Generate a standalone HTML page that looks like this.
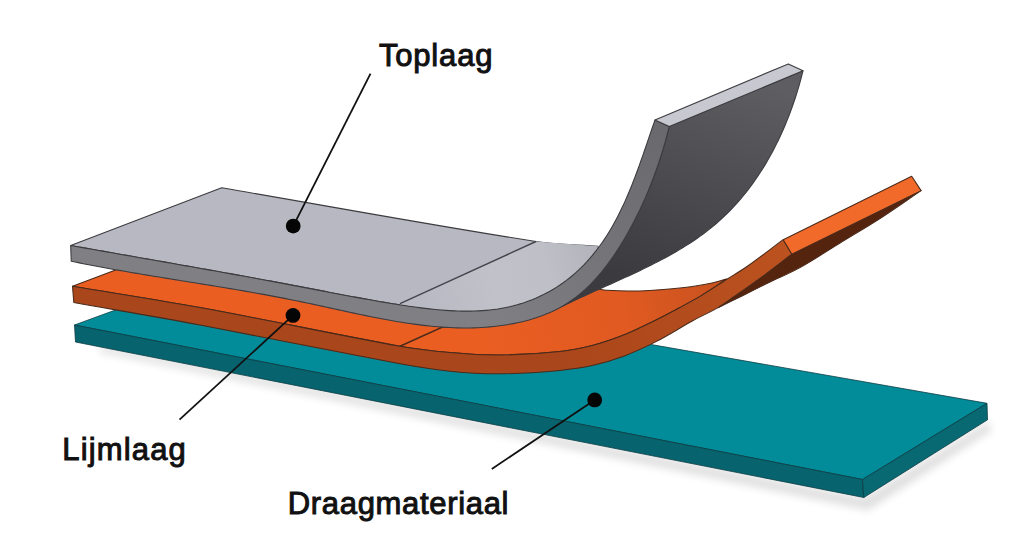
<!DOCTYPE html>
<html><head><meta charset="utf-8"><style>
html,body{margin:0;padding:0;background:#fff;width:1024px;height:560px;overflow:hidden}
svg{display:block}
text{font-family:"Liberation Sans",sans-serif}
</style></head><body>
<svg width="1024" height="560" viewBox="0 0 1024 560">
<defs><filter id="sh" x="-20%" y="-50%" width="140%" height="200%"><feGaussianBlur stdDeviation="4.5"/></filter><linearGradient id="gdark" gradientUnits="userSpaceOnUse" x1="740" y1="75" x2="660" y2="290"><stop offset="0" stop-color="#5e5e62"/><stop offset="1" stop-color="#3b3b3f"/></linearGradient><linearGradient id="gband" gradientUnits="userSpaceOnUse" x1="480" y1="320" x2="660" y2="130"><stop offset="0" stop-color="#7f7f84"/><stop offset="0.5" stop-color="#757579"/><stop offset="1" stop-color="#6a6a6e"/></linearGradient><linearGradient id="gtop" gradientUnits="userSpaceOnUse" x1="420" y1="300" x2="600" y2="250"><stop offset="0" stop-color="#b9b9c3"/><stop offset="0.4" stop-color="#c1c1c9"/><stop offset="0.7" stop-color="#bfbfc7"/><stop offset="1" stop-color="#b2b2ba"/></linearGradient><linearGradient id="otop" gradientUnits="userSpaceOnUse" x1="480" y1="330" x2="720" y2="290"><stop offset="0" stop-color="#ea5e22"/><stop offset="0.6" stop-color="#e05a21"/><stop offset="1" stop-color="#c9521f"/></linearGradient><linearGradient id="oband" gradientUnits="userSpaceOnUse" x1="560" y1="360" x2="790" y2="245"><stop offset="0" stop-color="#aa461b"/><stop offset="1" stop-color="#bc521f"/></linearGradient></defs>
<path d="M100,345 L864,498 L987,422 L992,430 L868,510 L100,352 Z" fill="#000" opacity="0.13" filter="url(#sh)"/>
<path d="M74.5,325.0 L225.0,270.0 L987.0,403.3 L862.5,479.5 Z" fill="#028c99" stroke="#0a3c44" stroke-width="0.8" stroke-linejoin="round"/>
<path d="M74.5,325.0 L862.5,479.5 L863.8,497.5 L75.5,342.0 Z" fill="#07646e" stroke="#0a3c44" stroke-width="0.8" stroke-linejoin="round"/>
<path d="M862.5,479.5 L987.0,403.3 L987.5,419.8 L863.8,497.5 Z" fill="#086972" stroke="#0a3c44" stroke-width="0.8" stroke-linejoin="round"/>
<path d="M791.8,254.1 L921.1,190.6 C907.4,199.9 893.9,209.5 880.0,218.5 C866.9,227.0 853.3,234.8 840.0,243.0 C826.7,251.2 813.7,260.0 800.0,267.6 C789.8,273.3 778.9,277.7 768.4,282.8 C759.9,287.0 751.5,291.3 743.0,295.5 C734.7,299.6 726.3,303.7 718.0,307.8 C723.7,303.9 729.4,300.0 735.0,296.0 C745.0,288.9 755.1,281.9 765.0,274.6 C774.1,267.9 782.9,260.9 791.8,254.1 Z" fill="#55240f" stroke="#4a2a1a" stroke-width="1.05" stroke-linejoin="round"/>
<path d="M72.5,286.2 L224.5,229.0 C349.8,249.2 474.9,270.9 600.4,289.6 C613.5,291.5 626.8,291.2 640.0,290.9 C654.9,290.5 669.8,289.2 684.6,287.6 C693.8,286.6 702.9,284.9 712.0,283.0 C716.9,282.0 721.7,280.3 726.5,279.0 C717.7,285.1 709.0,291.0 700.0,296.4 C693.5,300.3 686.7,303.9 680.0,307.5 C672.2,311.7 664.4,315.9 656.5,319.8 C645.9,325.0 635.3,330.4 624.3,334.8 C613.8,339.0 603.1,342.7 592.2,345.5 C581.6,348.2 570.9,350.4 560.0,351.5 C540.1,353.6 520.0,354.8 500.0,355.0 C483.3,355.2 466.6,354.0 450.0,352.5 C433.3,351.0 416.5,349.2 400.0,346.2 C333.2,334.2 266.8,319.7 200.0,307.5 C157.6,299.7 115.0,293.3 72.5,286.2 Z" fill="url(#otop)" stroke="#4a2a1a" stroke-width="1.05" stroke-linejoin="round"/>
<path d="M72.5,286.2 C115.0,293.3 157.6,299.7 200.0,307.5 C266.8,319.7 333.2,334.2 400.0,346.2 C416.5,349.2 433.3,351.0 450.0,352.5 C466.6,354.0 483.3,355.2 500.0,355.0 C520.0,354.8 540.1,353.6 560.0,351.5 C570.9,350.4 581.6,348.2 592.2,345.5 C603.1,342.7 613.8,339.0 624.3,334.8 C635.3,330.4 645.9,325.0 656.5,319.8 C664.4,315.9 672.2,311.7 680.0,307.5 C686.7,303.9 693.5,300.3 700.0,296.4 C709.0,291.0 717.7,285.1 726.5,279.5 C733.3,275.2 740.4,271.1 747.0,266.5 C759.3,257.9 771.1,248.6 783.2,239.7 L791.8,254.1 C782.9,260.9 774.1,267.9 765.0,274.6 C755.1,281.9 745.1,288.9 735.0,296.0 C729.4,299.9 723.9,304.1 718.0,307.6 C709.7,312.5 700.8,316.3 692.3,321.0 C680.3,327.6 668.7,335.1 656.5,341.4 C646.0,346.8 635.3,351.8 624.3,355.9 C613.8,359.8 603.1,363.1 592.2,365.6 C581.6,368.0 570.8,369.4 560.0,370.4 C540.0,372.2 520.0,373.6 500.0,373.8 C483.3,373.9 466.6,372.9 450.0,371.2 C433.2,369.6 416.6,366.8 400.0,363.8 C333.2,351.4 266.7,337.5 200.0,325.0 C158.0,317.1 115.8,310.0 73.8,302.5 Z" fill="url(#oband)" stroke="#4a2a1a" stroke-width="1.05" stroke-linejoin="round"/>
<path d="M783.2,239.7 L911.7,176.3 L921.1,190.6 L791.8,254.1 Z" fill="#f26a2a" stroke="#4a2a1a" stroke-width="1.05" stroke-linejoin="round"/>
<path d="M400,346.25 L540,283" stroke="#4a2a1a" stroke-width="1.4" fill="none"/>
<path d="M669.3,126.4 L803.0,70.8 L802.01,74.74 L800.98,78.68 L799.91,82.61 L798.79,86.54 L797.62,90.46 L796.41,94.37 L795.16,98.27 L793.86,102.16 L792.51,106.04 L791.12,109.91 L789.68,113.76 L788.20,117.59 L786.67,121.41 L785.10,125.21 L783.48,128.98 L781.81,132.74 L780.10,136.47 L778.33,140.18 L776.53,143.87 L774.67,147.53 L772.77,151.16 L770.82,154.76 L768.83,158.33 L766.78,161.87 L764.69,165.38 L762.55,168.85 L760.37,172.29 L758.13,175.69 L755.85,179.05 L753.52,182.37 L751.14,185.65 L748.71,188.89 L746.23,192.09 L743.70,195.24 L741.12,198.34 L738.50,201.40 L735.82,204.41 L733.10,207.37 L730.32,210.28 L727.50,213.14 L724.63,215.94 L721.70,218.68 L718.73,221.38 L715.70,224.01 L712.63,226.59 L709.50,229.11 L706.33,231.58 L703.12,233.99 L699.87,236.36 L696.57,238.68 L693.24,240.95 L689.87,243.18 L686.46,245.36 L683.02,247.50 L679.54,249.61 L676.04,251.67 L672.51,253.70 L668.95,255.70 L665.37,257.66 L661.76,259.59 L658.14,261.50 L654.49,263.37 L650.82,265.22 L647.14,267.05 L643.44,268.85 L639.74,270.64 L636.02,272.40 L632.29,274.15 L628.55,275.89 L624.81,277.61 L621.06,279.32 L617.31,281.01 L613.56,282.71 L609.82,284.39 L606.07,286.07 L602.33,287.75 L598.60,289.42 L594.87,291.10 L591.16,292.78 L587.45,294.46 L583.76,296.15 L580.09,297.84 L576.43,299.55 L572.79,301.26 L569.17,302.99 L565.57,304.73 L562.00,306.49 L565.8,304.2 L569.13,302.07 L572.42,299.79 L575.64,297.42 L578.78,294.94 L581.86,292.36 L584.88,289.69 L587.82,286.94 L590.70,284.10 L593.51,281.19 L596.25,278.21 L598.93,275.16 L601.54,272.05 L604.09,268.88 L606.58,265.65 L609.01,262.38 L611.39,259.06 L613.72,255.70 L615.99,252.30 L618.21,248.87 L620.39,245.42 L622.52,241.94 L624.60,238.44 L626.65,234.92 L628.65,231.39 L630.60,227.84 L632.52,224.27 L634.40,220.69 L636.23,217.10 L638.03,213.48 L639.79,209.86 L641.51,206.21 L643.18,202.55 L644.82,198.88 L646.43,195.19 L647.99,191.49 L649.52,187.77 L651.01,184.04 L652.47,180.29 L653.89,176.53 L655.27,172.75 L656.62,168.96 L657.94,165.16 L659.22,161.34 L660.47,157.51 L661.68,153.67 L662.87,149.81 L664.02,145.94 L665.14,142.06 L666.22,138.16 L667.28,134.25 L668.30,130.33 L669.30,126.40 Z" fill="url(#gdark)" stroke="#3c3c40" stroke-width="1.1" stroke-linejoin="round"/>
<path d="M70.7,245.5 L221.7,187.8 C326.5,205.7 431.0,225.2 536.0,241.5 C556.5,244.7 577.3,244.7 598.0,246.3 L597.2,249.3 L594.75,252.46 L592.20,255.59 L589.59,258.66 L586.92,261.65 L584.18,264.57 L581.38,267.41 L578.51,270.18 L575.57,272.86 L572.57,275.46 L569.51,277.97 L566.38,280.40 L563.19,282.73 L559.95,284.98 L556.65,287.14 L553.29,289.21 L549.88,291.19 L546.43,293.07 L542.92,294.87 L539.37,296.57 L535.78,298.17 L532.15,299.69 L528.47,301.10 L524.76,302.42 L521.02,303.65 L517.24,304.78 L513.44,305.81 L509.60,306.74 L505.74,307.57 L501.85,308.30 L497.94,308.95 L494.01,309.50 L490.06,309.97 L486.09,310.36 L482.10,310.67 L478.09,310.90 L474.07,311.06 L470.03,311.14 L465.98,311.16 L461.92,311.12 L457.85,311.02 L453.78,310.85 L449.69,310.64 L445.60,310.37 L441.50,310.05 L437.40,309.69 L433.30,309.29 L429.20,308.85 L425.10,308.38 L421.00,307.87 L416.90,307.33 L412.81,306.77 L408.73,306.18 L404.65,305.58 L400.58,304.96 L396.52,304.32 L392.48,303.67 L388.44,303.02 L384.41,302.35 L380.39,301.67 L376.38,300.98 L372.37,300.28 L368.38,299.57 L364.39,298.86 L360.40,298.13 L356.42,297.41 L352.45,296.67 L348.48,295.93 L344.52,295.19 L340.56,294.44 L336.61,293.69 L332.65,292.93 L328.70,292.17 L324.75,291.41 L320.81,290.65 L316.86,289.89 L312.92,289.13 L308.97,288.37 L305.03,287.62 L301.08,286.86 L297.13,286.11 L293.18,285.35 L289.23,284.61 L285.28,283.86 L281.33,283.12 L277.38,282.38 L273.42,281.64 L269.47,280.91 L265.51,280.17 L261.55,279.44 L257.59,278.71 L253.63,277.99 L249.67,277.26 L245.70,276.54 L241.74,275.82 L237.78,275.10 L233.81,274.38 L229.84,273.66 L225.88,272.95 L221.91,272.23 L217.94,271.52 L213.97,270.81 L210.00,270.10 L206.03,269.40 L202.05,268.69 L198.08,267.98 L194.11,267.28 L190.13,266.57 L186.16,265.87 L182.18,265.17 L178.20,264.47 L174.23,263.76 L170.25,263.06 L166.27,262.36 L162.30,261.66 L158.32,260.96 L154.34,260.26 L150.36,259.57 L146.38,258.87 L142.40,258.17 L138.42,257.47 L134.44,256.77 L130.46,256.07 L126.48,255.37 L122.50,254.67 L118.52,253.97 L114.54,253.27 L110.56,252.57 L106.57,251.86 L102.59,251.16 L98.61,250.46 L94.63,249.75 L90.65,249.05 L86.67,248.34 L82.69,247.63 L78.71,246.92 L74.73,246.21 L70.75,245.50 Z" fill="#b8b8c2" stroke="#3c3c40" stroke-width="1.1" stroke-linejoin="round"/>
<path d="M536,241.5 L400,303.6 L400.58,304.96 L404.65,305.58 L408.73,306.18 L412.81,306.77 L416.90,307.33 L421.00,307.87 L425.10,308.38 L429.20,308.85 L433.30,309.29 L437.40,309.69 L441.50,310.05 L445.60,310.37 L449.69,310.64 L453.78,310.85 L457.85,311.02 L461.92,311.12 L465.98,311.16 L470.03,311.14 L474.07,311.06 L478.09,310.90 L482.10,310.67 L486.09,310.36 L490.06,309.97 L494.01,309.50 L497.94,308.95 L501.85,308.30 L505.74,307.57 L509.60,306.74 L513.44,305.81 L517.24,304.78 L521.02,303.65 L524.76,302.42 L528.47,301.10 L532.15,299.69 L535.78,298.17 L539.37,296.57 L542.92,294.87 L546.43,293.07 L549.88,291.19 L553.29,289.21 L556.65,287.14 L559.95,284.98 L563.19,282.73 L566.38,280.40 L569.51,277.97 L572.57,275.46 L575.57,272.86 L578.51,270.18 L581.38,267.41 L584.18,264.57 L586.92,261.65 L589.59,258.66 L592.20,255.59 L594.75,252.46 L597.23,249.27 L598,246.3 Z" fill="url(#gtop)" stroke="none"/>
<path d="M70.7,245.5 L74.73,246.21 L78.71,246.92 L82.69,247.63 L86.67,248.34 L90.65,249.05 L94.63,249.75 L98.61,250.46 L102.59,251.16 L106.57,251.86 L110.56,252.57 L114.54,253.27 L118.52,253.97 L122.50,254.67 L126.48,255.37 L130.46,256.07 L134.44,256.77 L138.42,257.47 L142.40,258.17 L146.38,258.87 L150.36,259.57 L154.34,260.26 L158.32,260.96 L162.30,261.66 L166.27,262.36 L170.25,263.06 L174.23,263.76 L178.20,264.47 L182.18,265.17 L186.16,265.87 L190.13,266.57 L194.11,267.28 L198.08,267.98 L202.05,268.69 L206.03,269.40 L210.00,270.10 L213.97,270.81 L217.94,271.52 L221.91,272.23 L225.88,272.95 L229.84,273.66 L233.81,274.38 L237.78,275.10 L241.74,275.82 L245.70,276.54 L249.67,277.26 L253.63,277.99 L257.59,278.71 L261.55,279.44 L265.51,280.17 L269.47,280.91 L273.42,281.64 L277.38,282.38 L281.33,283.12 L285.28,283.86 L289.23,284.61 L293.18,285.35 L297.13,286.11 L301.08,286.86 L305.03,287.62 L308.97,288.37 L312.92,289.13 L316.86,289.89 L320.81,290.65 L324.75,291.41 L328.70,292.17 L332.65,292.93 L336.61,293.69 L340.56,294.44 L344.52,295.19 L348.48,295.93 L352.45,296.67 L356.42,297.41 L360.40,298.13 L364.39,298.86 L368.38,299.57 L372.37,300.28 L376.38,300.98 L380.39,301.67 L384.41,302.35 L388.44,303.02 L392.48,303.67 L396.52,304.32 L400.58,304.96 L404.65,305.58 L408.73,306.18 L412.81,306.77 L416.90,307.33 L421.00,307.87 L425.10,308.38 L429.20,308.85 L433.30,309.29 L437.40,309.69 L441.50,310.05 L445.60,310.37 L449.69,310.64 L453.78,310.85 L457.85,311.02 L461.92,311.12 L465.98,311.16 L470.03,311.14 L474.07,311.06 L478.09,310.90 L482.10,310.67 L486.09,310.36 L490.06,309.97 L494.01,309.50 L497.94,308.95 L501.85,308.30 L505.74,307.57 L509.60,306.74 L513.44,305.81 L517.24,304.78 L521.02,303.65 L524.76,302.42 L528.47,301.10 L532.15,299.69 L535.78,298.17 L539.37,296.57 L542.92,294.87 L546.43,293.07 L549.88,291.19 L553.29,289.21 L556.65,287.14 L559.95,284.98 L563.19,282.73 L566.38,280.40 L569.51,277.97 L572.57,275.46 L575.57,272.86 L578.51,270.18 L581.38,267.41 L584.18,264.57 L586.92,261.65 L589.59,258.66 L592.20,255.59 L594.75,252.46 L597.23,249.27 L599.65,246.02 L602.01,242.71 L604.31,239.34 L606.54,235.93 L608.71,232.47 L610.83,228.96 L612.88,225.41 L614.87,221.82 L616.81,218.19 L618.70,214.53 L620.54,210.84 L622.32,207.11 L624.07,203.37 L625.76,199.60 L627.42,195.81 L629.03,192.00 L630.61,188.18 L632.15,184.35 L633.66,180.51 L635.13,176.66 L636.58,172.80 L638.00,168.95 L639.40,165.10 L640.77,161.25 L642.12,157.41 L643.45,153.58 L644.77,149.76 L646.08,145.96 L647.37,142.17 L648.65,138.41 L649.93,134.67 L651.20,130.96 L652.47,127.27 L653.73,123.62 L655.00,120.00 L669.3,126.4 L669.3,126.4 L668.30,130.33 L667.28,134.25 L666.22,138.16 L665.14,142.06 L664.02,145.94 L662.87,149.81 L661.68,153.67 L660.47,157.51 L659.22,161.34 L657.94,165.16 L656.62,168.96 L655.27,172.75 L653.89,176.53 L652.47,180.29 L651.01,184.04 L649.52,187.77 L647.99,191.49 L646.43,195.19 L644.82,198.88 L643.18,202.55 L641.51,206.21 L639.79,209.86 L638.03,213.48 L636.23,217.10 L634.40,220.69 L632.52,224.27 L630.60,227.84 L628.65,231.39 L626.65,234.92 L624.60,238.44 L622.52,241.94 L620.39,245.42 L618.21,248.87 L615.99,252.30 L613.72,255.70 L611.39,259.06 L609.01,262.38 L606.58,265.65 L604.09,268.88 L601.54,272.05 L598.93,275.16 L596.25,278.21 L593.51,281.19 L590.70,284.10 L587.82,286.94 L584.88,289.69 L581.86,292.36 L578.78,294.94 L575.64,297.42 L572.42,299.79 L569.13,302.07 L565.78,304.23 L562.35,306.28 L558.86,308.21 L555.31,310.04 L551.70,311.75 L548.04,313.36 L544.32,314.86 L540.57,316.27 L536.77,317.57 L532.94,318.79 L529.08,319.92 L525.19,320.96 L521.28,321.91 L517.36,322.79 L513.42,323.59 L509.47,324.31 L505.52,324.97 L501.56,325.55 L497.61,326.07 L493.64,326.52 L489.68,326.91 L485.71,327.23 L481.74,327.49 L477.76,327.69 L473.78,327.84 L469.80,327.93 L465.82,327.96 L461.84,327.94 L457.85,327.87 L453.86,327.74 L449.87,327.57 L445.87,327.36 L441.88,327.09 L437.88,326.79 L433.88,326.44 L429.88,326.05 L425.87,325.62 L421.87,325.16 L417.86,324.66 L413.86,324.12 L409.85,323.56 L405.84,322.96 L401.84,322.33 L397.83,321.68 L393.82,321.00 L389.81,320.29 L385.80,319.57 L381.79,318.82 L377.77,318.05 L373.76,317.26 L369.75,316.46 L365.74,315.64 L361.74,314.81 L357.73,313.97 L353.72,313.11 L349.71,312.25 L345.71,311.39 L341.70,310.51 L337.70,309.64 L333.69,308.76 L329.69,307.88 L325.69,307.00 L321.70,306.13 L317.70,305.26 L313.70,304.39 L309.71,303.54 L305.72,302.69 L301.73,301.85 L297.75,301.03 L293.77,300.22 L289.78,299.42 L285.81,298.64 L281.83,297.86 L277.85,297.10 L273.88,296.34 L269.91,295.60 L265.94,294.87 L261.97,294.15 L258.01,293.43 L254.04,292.72 L250.08,292.03 L246.11,291.34 L242.15,290.65 L238.19,289.97 L234.23,289.30 L230.27,288.64 L226.31,287.98 L222.35,287.32 L218.39,286.67 L214.44,286.02 L210.48,285.38 L206.52,284.73 L202.56,284.09 L198.61,283.46 L194.65,282.82 L190.69,282.19 L186.73,281.55 L182.77,280.92 L178.81,280.28 L174.85,279.64 L170.89,279.01 L166.93,278.37 L162.96,277.72 L159.00,277.08 L155.03,276.43 L151.06,275.78 L147.09,275.12 L143.12,274.46 L139.15,273.80 L135.18,273.13 L131.20,272.45 L127.22,271.77 L123.24,271.07 L119.26,270.38 L115.27,269.67 L111.28,268.96 L107.29,268.23 L103.30,267.50 L99.31,266.76 L95.31,266.00 L91.31,265.24 L87.30,264.47 L83.29,263.68 L79.28,262.88 L75.27,262.07 L71.25,261.25 Z" fill="url(#gband)" stroke="#3c3c40" stroke-width="1.1" stroke-linejoin="round"/>
<path d="M655.0,120.0 L788.3,63.9 L803.0,70.8 L669.3,126.4 Z" fill="#c8c8d0" stroke="#3c3c40" stroke-width="1.1" stroke-linejoin="round"/>
<path d="M536,241.5 L400,303.6" stroke="#45454c" stroke-width="1.4" fill="none"/>
<path d="M370.5,73.7 L293.2,226.1" stroke="#111" stroke-width="1.8" fill="none"/>
<path d="M293,315.4 L179.5,419.6" stroke="#111" stroke-width="1.8" fill="none"/>
<path d="M594.7,399.9 L491.8,469" stroke="#111" stroke-width="1.8" fill="none"/>
<circle cx="293.2" cy="226.1" r="7.4" fill="#050505"/>
<circle cx="293" cy="315.4" r="7.4" fill="#050505"/>
<circle cx="594.7" cy="399.9" r="7.4" fill="#050505"/>
<text x="378.9" y="66.1" letter-spacing="0.83" font-size="31" fill="#111" stroke="#111" stroke-width="1">Toplaag</text>
<text x="62.3" y="460.3" letter-spacing="1.15" font-size="31" fill="#111" stroke="#111" stroke-width="1">Lijmlaag</text>
<text x="287.8" y="514" letter-spacing="0.67" font-size="31" fill="#111" stroke="#111" stroke-width="1">Draagmateriaal</text>
</svg>
</body></html>
